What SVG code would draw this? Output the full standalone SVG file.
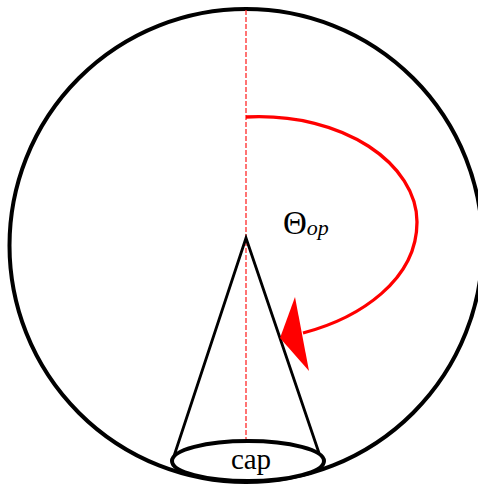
<svg xmlns="http://www.w3.org/2000/svg" width="478" height="486" viewBox="0 0 478 486">
<style>
.blk{fill:none;stroke:#000;stroke-width:4}
.cone{fill:none;stroke:#000;stroke-width:2.8}
.red{fill:none;stroke:#ff0000;stroke-width:3.3}
.dash{fill:none;stroke:#ff2a2a;stroke-width:1.3;stroke-dasharray:5,2}
.t{font-family:"Liberation Serif","Times New Roman",serif;fill:#000}
</style>
<rect width="478" height="486" fill="#fff"/>
<g id="sphere"><circle class="blk" cx="246" cy="245.5" r="236.5"/></g>
<g id="axis"><line class="dash" x1="246" y1="10" x2="246" y2="441"/></g>
<g id="cone">
<path class="cone" d="M174,456 L246,238 L319,453"/>
<ellipse cx="248" cy="461" rx="76" ry="20" fill="#fff" stroke="#000" stroke-width="4"/>
<text class="t" x="251" y="469" font-size="29" text-anchor="middle">cap</text>
</g>
<g id="angle">
<path class="red" d="M246,117 C345,112 417,165 417,222 C417,280 360,318 303,333"/>
<polygon points="280,338 295,297 309,371" fill="#ff0000"/>
<text class="t" x="283" y="234" font-size="33">Θ<tspan font-size="22" font-style="italic" dy="1">op</tspan></text>
</g>
</svg>
